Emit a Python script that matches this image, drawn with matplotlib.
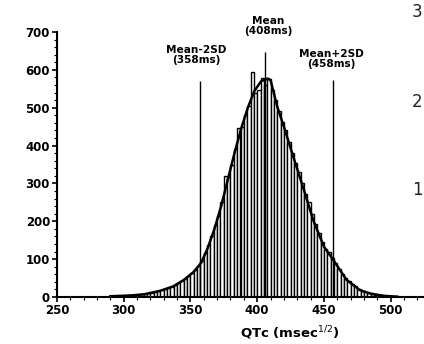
import matplotlib
matplotlib.use("Agg")
import matplotlib.pyplot as plt
import numpy as np
from matplotlib.ticker import MultipleLocator

# ---- data ----
bin_width = 2.5
bin_centers = [291.25 + 2.5 * i for i in range(84)]
counts = [2, 2, 3, 3, 3, 4, 4, 5, 6, 7,
          8, 10, 11, 13, 15, 18, 21, 24, 27, 32,
          37, 42, 48, 55, 63, 72, 82, 95, 115, 138,
          160, 190, 215, 250, 320, 318, 350, 392, 446, 450,
          480, 505, 595, 540, 548, 578, 560, 575, 548, 520,
          492, 462, 440, 410, 380, 355, 330, 300, 272, 250,
          220, 192, 170, 145, 128, 118, 104, 90, 74, 62,
          50, 42, 34, 28, 22, 17, 13, 11, 8, 6,
          5, 4, 3, 2]

curve_x = [290, 305, 315, 327, 337, 345, 352, 358, 363, 368, 373, 378, 383, 388,
           393, 398, 403, 408, 410, 415, 420, 427, 435, 442, 450, 457, 467, 477,
           485, 495, 505]
curve_y = [2, 4, 7, 16, 28, 45, 65, 90, 130, 180, 240, 310, 380, 445,
           500, 545, 570, 577, 573, 503, 450, 371, 283, 203, 133, 98, 45, 18,
           9, 3, 1]

ref_x = [357, 406, 457]
ref_top = [570, 647, 573]
ref_labels = ["Mean-2SD\n(358ms)", "Mean\n(408ms)", "Mean+2SD\n(458ms)"]

xticks = [250, 300, 350, 400, 450, 500]
yticks = [0, 100, 200, 300, 400, 500, 600, 700]

# ---- figure ----
fig = plt.figure(figsize=(4.24, 3.44), dpi=100)
ax = fig.add_axes([57 / 424, 47 / 344, 1 - 57 / 424, (297 - 32) / 344])

ax.bar(bin_centers, counts, width=bin_width, facecolor="white",
       edgecolor="black", linewidth=1.0, zorder=2)
ax.plot(curve_x, curve_y, color="black", linewidth=1.8, zorder=3)

for xv, top in zip(ref_x, ref_top):
    ax.vlines(xv, 0, top, color="black", linewidth=1.0, zorder=4)

font = "DejaVu Sans"
ax.set_xlim(250, 525)
ax.set_ylim(0, 700)
ax.set_xticks(xticks)
ax.set_yticks(yticks)
ax.xaxis.set_minor_locator(MultipleLocator(10))
ax.yaxis.set_minor_locator(MultipleLocator(20))
ax.tick_params(axis="both", which="major", direction="out", length=3.5, width=1.2,
               labelsize=8.5, pad=1.5)
ax.tick_params(axis="both", which="minor", direction="out", length=2, width=0.8)
for lab in ax.get_xticklabels() + ax.get_yticklabels():
    lab.set_fontweight("bold")
    lab.set_family(font)

for s in ["top", "right"]:
    ax.spines[s].set_visible(False)
for s in ["left", "bottom"]:
    ax.spines[s].set_linewidth(1.5)

ax.set_xlabel("QTc (msec$^{1/2}$)", fontsize=9.5, fontweight="bold", family=font, labelpad=5)
ax.xaxis.set_label_coords((290 - 57) / 367, -0.105)

# annotations in figure pixel coordinates
def fig_text(x, y, s, **kw):
    fig.text(x / 424, 1 - y / 344, s, **kw)

fig_text(196, 55, ref_labels[0], ha="center", va="center", fontsize=7.6,
         fontweight="bold", family=font, linespacing=1.05)
fig_text(268, 26, ref_labels[1], ha="center", va="center", fontsize=7.6,
         fontweight="bold", family=font, linespacing=1.05)
fig_text(331, 59, ref_labels[2], ha="center", va="center", fontsize=7.6,
         fontweight="bold", family=font, linespacing=1.05)

# fragments of neighbouring panel at right edge
fig_text(412, 12, "3", ha="left", va="center", fontsize=12, family=font, color="#222222")
fig_text(412, 102, "2", ha="left", va="center", fontsize=12, family=font, color="#222222")
fig_text(412, 190, "1", ha="left", va="center", fontsize=12, family=font, color="#222222")

fig.savefig("out.png", dpi=100)
